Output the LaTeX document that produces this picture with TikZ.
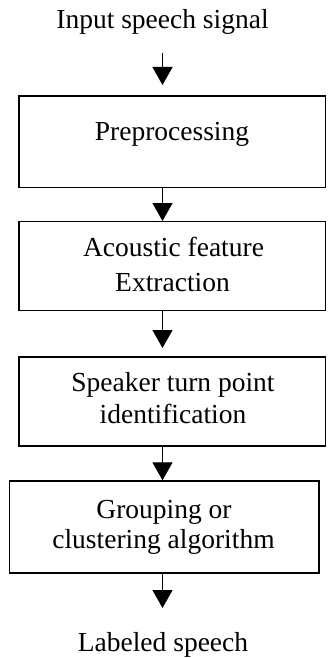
\documentclass[tikz,border=0pt]{standalone}
\usepackage{fontspec}
\setmainfont{Liberation Serif}
\usetikzlibrary{arrows.meta}
\begin{document}
\begin{tikzpicture}[x=1pt,y=-1pt,
  box/.style={draw, line width=1.4pt, inner sep=0pt},
  txt/.style={font=\fontsize{27.5}{32}\selectfont, anchor=base, inner sep=0pt},
  arr/.style={line width=1.3pt, -{Triangle[width=20pt,length=18pt]}}]
\useasboundingbox (0,0) rectangle (328,658);
\coordinate (ax) at (162.5,0);
% boxes
\node[box, minimum width=306.5pt, minimum height=91.5pt] (b1) at (172.25,141.75) {};
\node[box, minimum width=306.5pt, minimum height=89pt] (b2) at (172.25,266.2) {};
\node[box, minimum width=306.5pt, minimum height=89pt] (b3) at (172.25,401.5) {};
\node[box, minimum width=309.7pt, minimum height=92pt] (b4) at (164.15,527) {};
% texts
\node[txt] (t0) at (162.5,28.5) {Input speech signal};
\node[txt] (t1) at (172,140) {Preprocessing};
\node[txt] (t2a) at (173.5,256.7) {Acoustic feature};
\node[txt] (t2b) at (172.5,291.7) {Extraction};
\node[txt] (t3a) at (173,391.7) {Speaker turn point};
\node[txt] (t3b) at (173,423.3) {identification};
\node[txt] (t4a) at (164,518) {Grouping or};
\node[txt] (t4b) at (163.5,548) {clustering algorithm};
\node[txt] (t5) at (163,651.7) {Labeled speech};
% free arrow ends
\coordinate (s1) at (162.5,53);
\coordinate (e1) at (162.5,85);
\coordinate (e3) at (162.5,348);
\coordinate (e5) at (162.5,608);
% arrows
\draw[arr] (s1) -- (e1);
\draw[arr] (b1.south -| ax) -- (b2.north -| ax);
\draw[arr] (b2.south -| ax) -- (e3);
\draw[arr] (b3.south -| ax) -- (b4.north -| ax);
\draw[arr] (b4.south -| ax) -- (e5);
\end{tikzpicture}
\end{document}
